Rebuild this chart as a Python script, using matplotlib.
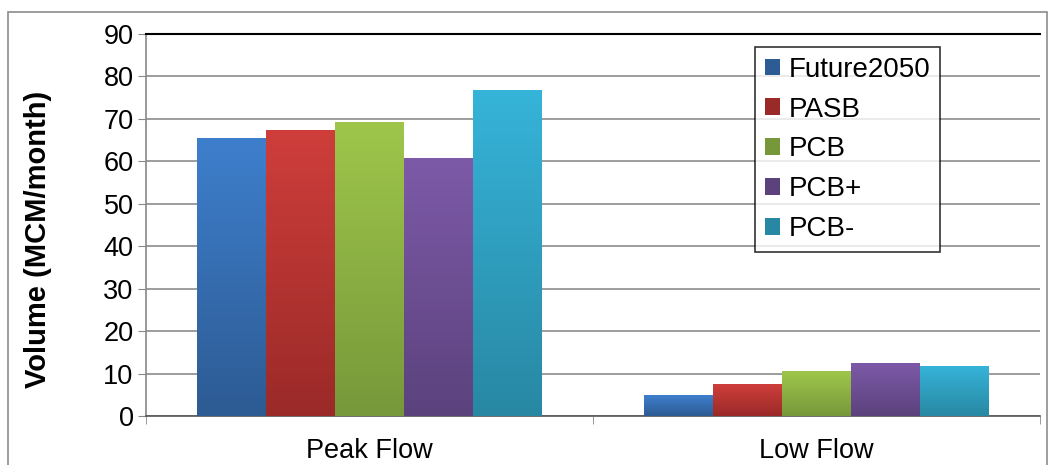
import matplotlib.pyplot as plt
import numpy as np
from matplotlib.colors import LinearSegmentedColormap

plt.rcParams['font.family'] = ['Liberation Sans', 'DejaVu Sans']

# data
categories = ['Peak Flow', 'Low Flow']
series = ['Future2050', 'PASB', 'PCB', 'PCB+', 'PCB-']
future2050 = [65.6, 4.9]
pasb = [67.4, 7.5]
pcb = [69.3, 10.6]
pcb_plus = [60.7, 12.5]
pcb_minus = [76.9, 11.8]
values = [future2050, pasb, pcb, pcb_plus, pcb_minus]

# (top colour, bottom colour) for the Excel-style gradient
colors = [('#3e7fcd', '#2d5b93'),
          ('#cf3e3b', '#9a2a28'),
          ('#9fc64b', '#77983a'),
          ('#7d5aa8', '#5b427d'),
          ('#36b4d9', '#2888a3')]

fig = plt.figure(figsize=(10.55, 4.65), dpi=100)
ax = fig.add_axes([146 / 1055, 1 - 416 / 465, (1040 - 146) / 1055, (416 - 34) / 465])

x = np.arange(len(categories))
width = 0.154
offsets = (np.arange(len(series)) - 2) * width
grad = np.linspace(1, 0, 256).reshape(-1, 1)

for i, name in enumerate(series):
    top, bottom = colors[i]
    bars = ax.bar(x + offsets[i], values[i], width, color=top, label=name, zorder=3)
    cmap = LinearSegmentedColormap.from_list(name, [bottom, top])
    for b in bars:
        bx, by = b.get_x(), b.get_y()
        im = ax.imshow(grad, cmap=cmap, aspect='auto', origin='upper',
                       extent=[bx, bx + b.get_width(), by, by + b.get_height()], zorder=3.5)
        im.set_clip_path(b)

ax.set_xlim(-0.5, 1.5)
ax.set_ylim(0, 90)
ax.set_yticks(range(0, 91, 10))
ax.set_xticks(x)
ax.set_xticklabels(categories)
ax.set_xticks([-0.5, 0.5, 1.5], minor=True)
ax.tick_params(axis='x', which='major', length=0, labelsize=19.5, pad=16)
ax.tick_params(axis='x', which='minor', length=6, color='#888888')
ax.tick_params(axis='y', length=6, color='#888888', labelsize=19.5, pad=3)

ax.grid(axis='y', color='#8c8c8c', linewidth=1.2, zorder=0)
ax.set_axisbelow(True)
ax.spines['right'].set_visible(False)
ax.spines['top'].set_color('black')
ax.spines['top'].set_linewidth(1.5)
ax.spines['left'].set_color('#888888')
ax.spines['left'].set_linewidth(1.2)
ax.spines['bottom'].set_color('#555555')
ax.spines['bottom'].set_linewidth(1.2)

ax.set_ylabel('Volume (MCM/month)', fontsize=21, fontweight='bold')
ax.yaxis.set_label_coords(-(146 - 52) / 894, (416 - 239) / 382)

leg = ax.legend(loc='upper left', bbox_to_anchor=((755 - 146) / 894, (416 - 47) / 382),
                fontsize=20, frameon=True, fancybox=False, edgecolor='black',
                handlelength=0.55, handleheight=0.55, handletextpad=0.3,
                labelspacing=0.5, borderpad=0.35, borderaxespad=0)
leg.get_frame().set_linewidth(1.2)
for h, c in zip(leg.legend_handles, colors):
    h.set_facecolor(c[1])

# outer chart frame
fig.patches.append(plt.Rectangle((8 / 1055, -0.05), 1039 / 1055, 1 - 12 / 465 + 0.05,
                                 transform=fig.transFigure, fill=False,
                                 edgecolor='#8c8c8c', linewidth=1.2))

fig.savefig('out.png', dpi=100)
